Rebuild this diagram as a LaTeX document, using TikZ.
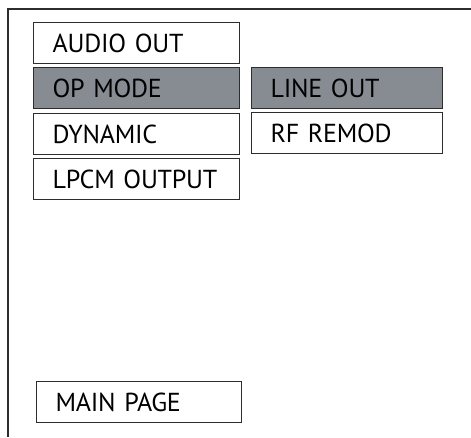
\documentclass[tikz,border=0pt]{standalone}
\usepackage{fontspec}
\setmainfont{PT Sans}
\definecolor{selgray}{RGB}{134,140,146}
\definecolor{edge}{RGB}{45,45,45}
\begin{document}
\begin{tikzpicture}[x=1pt,y=-1pt,
  menubox/.style={draw=edge,line width=1.3pt,minimum width=#1,minimum height=41pt,inner sep=0pt,anchor=north west,text width=#1-38pt,align=left,font=\fontsize{26}{26}\selectfont\addfontfeatures{LetterSpace=-1}},
  menubox/.default=206pt,
  selbox/.style={menubox=#1,fill=selgray},
  selbox/.default=206pt]
\useasboundingbox (0,0) rectangle (471,437);
\draw[edge,line width=1.5pt] (8,437) -- (8,9) -- (471,9);
\node[menubox] (audio) at (33,22) {AUDIO OUT};
\node[selbox] (opmode) at (33,67) {OP MODE};
\node[menubox] (dynamic) at (33,113) {DYNAMIC};
\node[menubox] (lpcm) at (33,158) {LPCM OUTPUT};
\node[selbox=191pt] (lineout) at (251,67) {LINE OUT};
\node[menubox=191pt] (rfremod) at (251,112) {RF REMOD};
\node[menubox=205pt] (mainpage) at (36,381) {MAIN PAGE};
\end{tikzpicture}
\end{document}
